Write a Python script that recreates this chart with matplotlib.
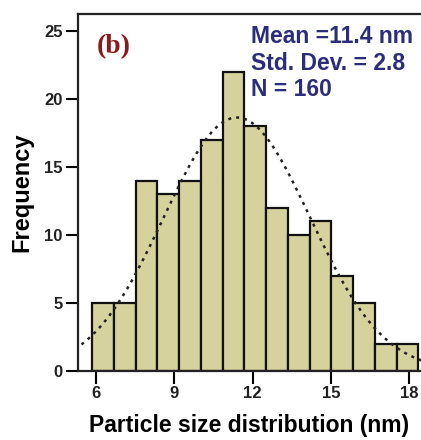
import numpy as np
from matplotlib import pyplot as plt

plt.rcParams['font.family'] = ['Liberation Sans', 'DejaVu Sans']

# histogram counts
counts = [5, 5, 14, 13, 14, 17, 22, 18, 12, 10, 11, 7, 5, 2, 2]
bin_start = 5.85
bin_width = 12.5 / 15
mean_nm = 11.4
std_nm = 2.8
n_total = 160
xticks = [6, 9, 12, 15, 18]
yticks = [0, 5, 10, 15, 20, 25]

edges = bin_start + bin_width * np.arange(len(counts) + 1)

fig = plt.figure(figsize=(4.21, 4.40), dpi=100)
ax = fig.add_axes([0.185, 0.157, 0.815, 0.811])

ax.bar(edges[:-1], counts, width=bin_width, align='edge',
       color='#d6d29e', edgecolor='#111111', linewidth=1.6, zorder=2)

# fitted normal curve
x = np.linspace(5.2, 18.6, 300)
scale = sum(counts) * bin_width
y = scale / (std_nm * np.sqrt(2 * np.pi)) * np.exp(-0.5 * ((x - mean_nm) / std_nm) ** 2)
ax.plot(x, y, linestyle=(0, (1.2, 2.0)), color='#222222', linewidth=1.8, zorder=3)

ax.set_xlim(5.31, 18.45)
ax.set_ylim(0, 26.25)
ax.set_xticks(xticks)
ax.set_yticks(yticks)
ax.tick_params(direction='out', length=9, width=1.5, labelsize=12, pad=2)
for lab in ax.get_xticklabels() + ax.get_yticklabels():
    lab.set_fontweight('bold')
    lab.set_color('#222222')

ax.spines['right'].set_visible(False)
for s in ['left', 'top', 'bottom']:
    ax.spines[s].set_linewidth(1.6)
    ax.spines[s].set_color('#222222')

ax.set_ylabel('Frequency', fontsize=17, fontweight='bold', labelpad=8)
ax.set_xlabel('Particle size distribution (nm)', fontsize=16.5, fontweight='bold', labelpad=9)

ax.text(0.055, 0.945, '(b)', transform=ax.transAxes, ha='left', va='top',
        fontsize=20, fontweight='bold', family='Liberation Serif', color='#8b1a1a')
stats = 'Mean =%.1f nm\nStd. Dev. = %.1f\nN = %d' % (mean_nm, std_nm, n_total)
ax.text(0.505, 0.968, stats, transform=ax.transAxes, ha='left', va='top',
        fontsize=16.5, fontweight='bold', color='#2b2d7a', linespacing=1.17)

fig.savefig('out.png', dpi=100)
